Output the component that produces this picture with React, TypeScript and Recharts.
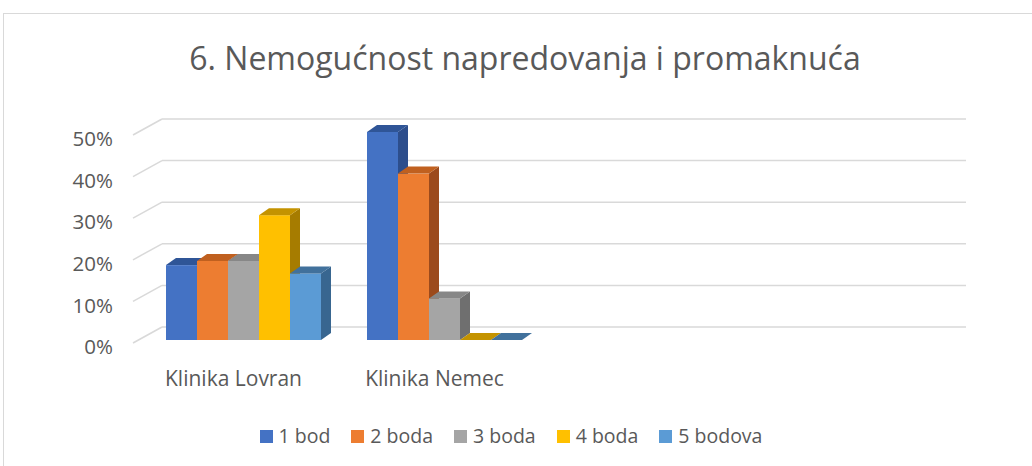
import { BarChart, Bar, XAxis, YAxis, CartesianGrid, Legend } from 'recharts'

// Two clinics; the chart in the source sheet reserves room for four category slots.
const categories = ['Klinika Lovran', 'Klinika Nemec', '', '']
const bod1 = [18, 50, null, null]
const bod2 = [19, 40, null, null]
const bod3 = [19, 10, null, null]
const bod4 = [30, 0, null, null]
const bod5 = [16, 0, null, null]
const yTicks = [0, 10, 20, 30, 40, 50]

const seriesNames = ['1 bod', '2 boda', '3 boda', '4 boda', '5 bodova']
const seriesKeys = ['b1', 'b2', 'b3', 'b4', 'b5']
// front / top / side shades
const COLORS = [
  ['#4472c4', '#2f5597', '#2d4e8c'],
  ['#ed7d31', '#c0601f', '#9c4a1c'],
  ['#a5a5a5', '#878787', '#6f6f6f'],
  ['#ffc000', '#c49300', '#a67c00'],
  ['#5b9bd5', '#41719c', '#386690'],
]

const data = categories.map((name, i) => ({
  name,
  b1: bod1[i],
  b2: bod2[i],
  b3: bod3[i],
  b4: bod4[i],
  b5: bod5[i],
}))

const TEXT = '#595959'
const FONT = '"Open Sans", sans-serif'

// 3D offsets: wall depth and bar depth
const WALL_DX = 29
const WALL_DY = -16
const BAR_SHIFT_X = 10
const BAR_SHIFT_Y = -3
const BAR_DX = 10
const BAR_DY = -7

function Bar3D(props: any) {
  const { x, y, width, height, front, top, side } = props
  if (x == null || y == null || isNaN(y) || height == null || isNaN(height)) return null
  const x0 = x + BAR_SHIFT_X
  const y0 = y + BAR_SHIFT_Y
  const x1 = x0 + width
  const y1 = y0 + height
  return (
    <g>
      {height > 0 && <rect x={x0} y={y0} width={width} height={height} fill={front} />}
      {height > 0 && (
        <polygon
          points={`${x1},${y0} ${x1 + BAR_DX},${y0 + BAR_DY} ${x1 + BAR_DX},${y1 + BAR_DY} ${x1},${y1}`}
          fill={side}
        />
      )}
      <polygon
        points={`${x0},${y0} ${x1},${y0} ${x1 + BAR_DX},${y0 + BAR_DY} ${x0 + BAR_DX},${y0 + BAR_DY}`}
        fill={top}
      />
    </g>
  )
}

function GridLine3D(props: any) {
  const { x1, y1, x2, y2 } = props
  return (
    <g>
      <line x1={x1} y1={y1} x2={x1 + WALL_DX} y2={y1 + WALL_DY} stroke="#d9d9d9" strokeWidth={1.5} />
      <line x1={x1 + WALL_DX} y1={y1 + WALL_DY} x2={x2 + WALL_DX} y2={y2 + WALL_DY} stroke="#d9d9d9" strokeWidth={1.5} />
    </g>
  )
}

function LegendContent() {
  return (
    <div style={{ display: 'flex', justifyContent: 'center', gap: 21, fontFamily: FONT, fontSize: 19.5, color: TEXT, lineHeight: '20px' }}>
      {seriesNames.map((n, i) => (
        <div key={n} style={{ display: 'flex', alignItems: 'center' }}>
          <span style={{ width: 13, height: 13, background: COLORS[i][0], display: 'inline-block', marginRight: 6 }} />
          <span>{n}</span>
        </div>
      ))}
    </div>
  )
}

export default function App() {
  return (
    <div style={{ position: 'absolute', left: 0, top: 0, width: 1032, height: 466, background: '#fff', overflow: 'hidden' }}>
      <div
        style={{
          position: 'absolute',
          left: 3,
          top: 13,
          width: 1100,
          height: 500,
          borderLeft: '1.5px solid #d9d9d9',
          borderTop: '1.5px solid #d9d9d9',
        }}
      />
      <div
        style={{
          position: 'absolute',
          left: 0,
          width: 1050,
          top: 36,
          textAlign: 'center',
          fontFamily: FONT,
          fontSize: 32,
          color: TEXT,
        }}
      >
        6. Nemogućnost napredovanja i promaknuća
      </div>
      <div style={{ position: 'absolute', left: 0, top: 0 }}>
        <BarChart
          width={1032}
          height={466}
          data={data}
          margin={{ top: 135, right: 95, left: 0, bottom: 63 }}
          barCategoryGap={23}
          barGap={0}
        >
          <CartesianGrid vertical={false} horizontal={(p: any) => <GridLine3D key={p.key} {...p} />} />
          <XAxis
            dataKey="name"
            height={40}
            axisLine={false}
            tickLine={false}
            tickSize={0}
            tickMargin={28}
            tick={{ fill: TEXT, fontSize: 21, fontFamily: FONT }}
            interval={0}
          />
          <YAxis
            width={133}
            domain={[0, 50]}
            ticks={yTicks}
            axisLine={false}
            tickLine={false}
            tickSize={0}
            tickMargin={20}
            tickFormatter={(v) => `${v}%`}
            tick={{ fill: TEXT, fontSize: 20.5, fontFamily: FONT, dy: 4 }}
          />
          {seriesKeys.map((k, i) => (
            <Bar
              key={k}
              dataKey={k}
              name={seriesNames[i]}
              isAnimationActive={false}
              shape={(p: any) => <Bar3D {...p} front={COLORS[i][0]} top={COLORS[i][1]} side={COLORS[i][2]} />}
            />
          ))}
          <Legend
            verticalAlign="bottom"
            content={<LegendContent />}
            wrapperStyle={{ bottom: 20, height: 20, left: 0, width: 1022 }}
          />
        </BarChart>
      </div>
    </div>
  )
}
